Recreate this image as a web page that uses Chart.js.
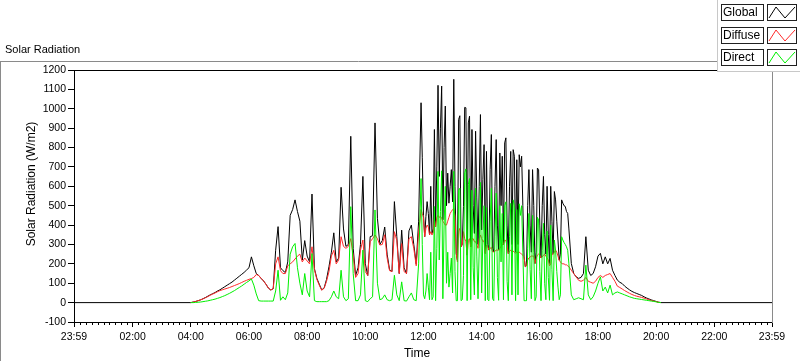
<!DOCTYPE html>
<html>
<head>
<meta charset="utf-8">
<script src="https://cdn.jsdelivr.net/npm/chart.js@4.4.0/dist/chart.umd.min.js"></script>
<style>
  html, body { margin: 0; padding: 0; background: #fff; }
  #wrap { width: 800px; height: 361px; }
</style>
</head>
<body>
<div id="wrap"><canvas id="solar" width="800" height="361"></canvas></div>
<script>
// minutes after midnight; night values are zero
const dayStart = -1;   // 23:59 of the day before
const dayEnd = 1439;   // 23:59

function range(from, to, step) {
  const out = [];
  for (let t = from; t <= to + 1e-9; t += step) out.push(t);
  return out;
}
// 5 min samples, 2.5 min around midday where the clouds move fast
const sampleTimes = [...range(240, 710, 5), ...range(715, 1020, 2.5), ...range(1025, 1210, 5)];

const timeTicks = [-1, 120, 240, 360, 480, 600, 720, 840, 960, 1080, 1200, 1320, 1439];
const seriesNames = ['Global', 'Diffuse', 'Direct'];
const seriesColors = ['#000000', '#ff2a2a', '#00f000'];

const globalVals = [
  // 04:00 - 11:50
  0, 3, 6, 10, 14, 20, 26, 33, 40, 46, 52, 60, 66,
  74, 82, 90, 98, 106, 116, 126, 136, 146, 156, 168, 180,
  236, 190, 150, 140, 125, 112, 95, 75, 65, 72,
  270, 392, 180, 165, 155, 210, 450, 480, 530, 470,
  420, 220, 320, 240, 210, 560, 175, 125, 95, 66,
  75, 120, 185, 260, 360, 210, 230, 595, 380, 290,
  300, 858, 280, 140, 180, 300, 651, 200, 140, 340,
  345, 927, 435, 300, 320, 390, 250, 170, 160, 521,
  340, 150, 374, 180, 150, 370, 400, 300, 200, 420,
  // 11:55 - 17:00
  1031, 750, 450, 340, 444, 521, 460, 350, 600, 357,
  380, 893, 392, 700, 1121, 651, 900, 1117, 427, 800,
  1014, 500, 668, 513, 600, 686, 520, 1152, 600, 254,
  219, 945, 964, 288, 300, 496, 1007, 1005, 245, 927,
  962, 288, 893, 500, 357, 884, 540, 300, 600, 970,
  375, 634, 815, 254, 780, 300, 271, 686, 867, 280,
  262, 600, 841, 400, 271, 772, 500, 755, 300, 824,
  850, 400, 253, 600, 780, 300, 789, 755, 260, 737,
  300, 763, 700, 755, 500, 236, 185, 190, 500, 686,
  400, 260, 686, 500, 202, 260, 694, 686, 400, 230,
  500, 651, 350, 250, 600, 350, 202, 600, 420, 250,
  573, 530, 420, 323, 219, 250, 530, 513, 500, 496,
  470, 460, 380,
  // 17:05 - 20:10
  202, 150, 133, 125, 130, 150, 340, 167, 140, 150,
  185, 240, 254, 200, 236, 200, 228, 167, 140, 116,
  105, 98, 85, 75, 66, 58, 52, 47, 42, 37,
  30, 24, 19, 14, 10, 6, 2, 0
];

const diffuseVals = [
  0, 3, 6, 10, 14, 19, 25, 31, 38, 44, 50, 56, 62,
  66, 70, 74, 78, 83, 88, 93, 98, 104, 110, 115, 120,
  124, 130, 145, 140, 125, 112, 95, 75, 65, 72,
  200, 236, 165, 150, 150, 190, 200, 210, 225, 240,
  250, 210, 230, 215, 200, 288, 170, 120, 90, 64,
  74, 110, 160, 240, 270, 200, 220, 340, 290, 280,
  290, 330, 240, 130, 150, 271, 323, 160, 140, 314,
  330, 349, 330, 297, 300, 350, 230, 165, 160, 366,
  320, 150, 305, 160, 150, 330, 340, 280, 190, 360,
  480, 460, 440, 340, 383, 400, 390, 350, 366, 349,
  360, 430, 392, 440, 450, 440, 445, 435, 420, 410,
  400, 400, 420, 440, 460, 470, 480, 486, 450, 254,
  210, 370, 383, 288, 300, 366, 330, 314, 245, 320,
  330, 288, 330, 330, 314, 314, 300, 280, 330, 349,
  330, 314, 320, 254, 297, 290, 271, 280, 285, 262,
  262, 265, 271, 270, 271, 280, 290, 300, 300, 323,
  320, 290, 253, 265, 271, 260, 265, 260, 255, 260,
  255, 260, 255, 250, 245, 236, 185, 190, 220, 230,
  235, 240, 240, 240, 202, 230, 245, 250, 245, 230,
  236, 245, 250, 240, 230, 220, 190, 200, 250, 250,
  260, 271, 260, 240, 219, 210, 202, 200, 200, 195,
  195, 190, 185,
  167, 150, 133, 115, 110, 115, 130, 110, 105, 100,
  110, 130, 140, 130, 140, 145, 150, 130, 110, 85,
  78, 70, 62, 55, 48, 42, 37, 33, 30, 27,
  23, 19, 15, 11, 8, 5, 2, 0
];

const directVals = [
  0, 0, 1, 2, 3, 5, 7, 9, 12, 15, 18, 22, 26,
  31, 36, 42, 48, 55, 62, 70, 78, 86, 95, 104, 112,
  122, 90, 45, 10, 8, 8, 8, 8, 8, 8,
  60, 167, 12, 30, 15, 50, 250, 288, 305, 180,
  100, 40, 150, 60, 30, 253, 10, 5, 5, 5,
  5, 5, 10, 30, 60, 30, 20, 167, 30, 10,
  20, 495, 150, 10, 10, 40, 271, 10, 5, 20,
  30, 478, 100, 15, 20, 40, 15, 10, 15, 141,
  40, 10, 107, 10, 8, 30, 50, 15, 10, 200,
  640, 300, 40, 20, 60, 150, 80, 15, 260, 15,
  30, 496, 10, 280, 677, 220, 470, 680, 20, 400,
  600, 100, 260, 80, 150, 230, 50, 677, 160, 10,
  10, 580, 590, 10, 15, 140, 670, 690, 10, 610,
  640, 15, 580, 180, 40, 590, 240, 20, 280, 620,
  50, 330, 500, 10, 490, 15, 10, 420, 590, 20,
  10, 340, 565, 130, 12, 500, 210, 460, 15, 500,
  520, 110, 10, 340, 512, 40, 530, 500, 10, 480,
  40, 510, 450, 500, 260, 10, 10, 10, 280, 460,
  170, 20, 450, 260, 10, 30, 440, 426, 160, 10,
  270, 409, 100, 15, 370, 130, 12, 400, 170, 10,
  323, 270, 160, 80, 15, 40, 340, 323, 310, 300,
  288, 270, 200,
  40, 15, 20, 25, 20, 15, 193, 40, 15, 30,
  60, 100, 133, 60, 80, 50, 90, 40, 50, 55,
  50, 45, 40, 35, 30, 26, 22, 20, 18, 16,
  14, 12, 10, 8, 6, 4, 1, 0
];

const FONT = "'Liberation Sans', Arial, sans-serif";

function toPoints(vals) {
  return vals.map((v, i) => ({ x: sampleTimes[i], y: v }));
}

function fmtTime(m) {
  if (m < 0 || m >= 1439) return '23:59';
  const h = Math.floor(m / 60), mm = m % 60;
  return String(h).padStart(2, '0') + ':' + String(mm).padStart(2, '0');
}

// frame, minor ticks, titles and the legend boxes
const decor = {
  id: 'decor',
  beforeDraw(chart) {
    const ctx = chart.ctx;
    ctx.save();
    ctx.fillStyle = '#fff';
    ctx.fillRect(0, 0, chart.width, chart.height);
    ctx.restore();
  },
  afterDraw(chart) {
    const ctx = chart.ctx;
    const a = chart.chartArea;
    const xs = chart.scales.x;
    ctx.save();
    ctx.lineWidth = 1;

    ctx.strokeStyle = '#8a8a8a';
    ctx.beginPath();
    ctx.moveTo(0, 61.5); ctx.lineTo(717, 61.5);
    ctx.moveTo(0.5, 61); ctx.lineTo(0.5, 361);
    ctx.moveTo(a.right + 0.5, 61); ctx.lineTo(a.right + 0.5, a.bottom + 1);
    ctx.stroke();

    ctx.strokeStyle = '#000';
    ctx.beginPath();
    ctx.moveTo(a.left, a.top + 0.5); ctx.lineTo(a.right, a.top + 0.5);
    ctx.stroke();

    // minor ticks every 12 minutes
    ctx.beginPath();
    for (let m = 12; m < dayEnd; m += 12) {
      if (m % 120 === 0) continue;
      const x = Math.round(xs.getPixelForValue(m)) + 0.5;
      ctx.moveTo(x, a.bottom); ctx.lineTo(x, a.bottom + 3);
    }
    ctx.stroke();

    ctx.fillStyle = '#000';
    ctx.font = '11px ' + FONT;
    ctx.textAlign = 'left';
    ctx.textBaseline = 'middle';
    ctx.fillText('Solar Radiation', 5, 50);

    ctx.font = '12px ' + FONT;
    ctx.textAlign = 'center';
    ctx.fillText('Time', 417, 354);

    ctx.save();
    ctx.translate(32, 184);
    ctx.rotate(-Math.PI / 2);
    ctx.fillText('Solar Radiation (W/m2)', 0, 0);
    ctx.restore();

    // legend panel
    ctx.fillStyle = '#fff';
    ctx.fillRect(717, 0, 83, 72);
    ctx.strokeStyle = '#c8c8c8';
    ctx.beginPath();
    ctx.moveTo(717.5, 0); ctx.lineTo(717.5, 72);
    ctx.moveTo(717, 71.5); ctx.lineTo(800, 71.5);
    ctx.stroke();

    const rows = [4, 27, 49];
    chart.data.datasets.forEach((ds, k) => {
      const y = rows[k];
      ctx.strokeStyle = '#202020';
      ctx.strokeRect(721.5, y + 0.5, 42, 16);
      ctx.strokeRect(767.5, y + 0.5, 29, 16);
      ctx.fillStyle = '#000';
      ctx.font = '12px ' + FONT;
      ctx.textAlign = 'left';
      ctx.textBaseline = 'middle';
      ctx.fillText(ds.label, 723, y + 9);
      ctx.strokeStyle = ds.borderColor;
      ctx.beginPath();
      ctx.moveTo(769, y + 14);
      ctx.lineTo(776, y + 3);
      ctx.lineTo(785, y + 14);
      ctx.lineTo(795, y + 3);
      ctx.stroke();
    });
    ctx.restore();
  }
};

const ctx = document.getElementById('solar').getContext('2d');
const solarChart = new Chart(ctx, {
  type: 'line',
  data: {
    datasets: [
      {
        label: seriesNames[0],
        data: [{ x: dayStart, y: 0 }, ...toPoints(globalVals), { x: dayEnd, y: 0 }],
        borderColor: seriesColors[0],
        order: 3
      },
      {
        label: seriesNames[1],
        data: toPoints(diffuseVals),
        borderColor: seriesColors[1],
        order: 2
      },
      {
        label: seriesNames[2],
        data: toPoints(directVals),
        borderColor: seriesColors[2],
        order: 1
      }
    ]
  },
  options: {
    responsive: false,
    animation: false,
    events: [],
    elements: {
      line: { borderWidth: 1, tension: 0 },
      point: { radius: 0 }
    },
    layout: { padding: { top: 70, right: 28, left: 0, bottom: 0 } },
    plugins: {
      legend: { display: false },
      tooltip: { enabled: false }
    },
    scales: {
      x: {
        type: 'linear',
        min: dayStart,
        max: dayEnd,
        afterBuildTicks: s => { s.ticks = timeTicks.map(v => ({ value: v })); },
        afterFit: s => { s.height = 39; },
        ticks: {
          autoSkip: false,
          maxRotation: 0,
          padding: 4,
          color: '#000',
          font: { family: FONT, size: 10.5 },
          callback: v => fmtTime(v)
        },
        grid: { drawOnChartArea: false, tickLength: 5, color: '#000' },
        border: { color: '#000' }
      },
      y: {
        min: -100,
        max: 1200,
        afterFit: s => { s.width = 74; },
        ticks: {
          stepSize: 100,
          autoSkip: false,
          padding: 2,
          color: '#000',
          font: { family: FONT, size: 10.5 },
          callback: v => String(v)
        },
        grid: { drawOnChartArea: false, tickLength: 6, color: '#000' },
        border: { color: '#000' }
      }
    }
  },
  plugins: [decor]
});
</script>
</body>
</html>
